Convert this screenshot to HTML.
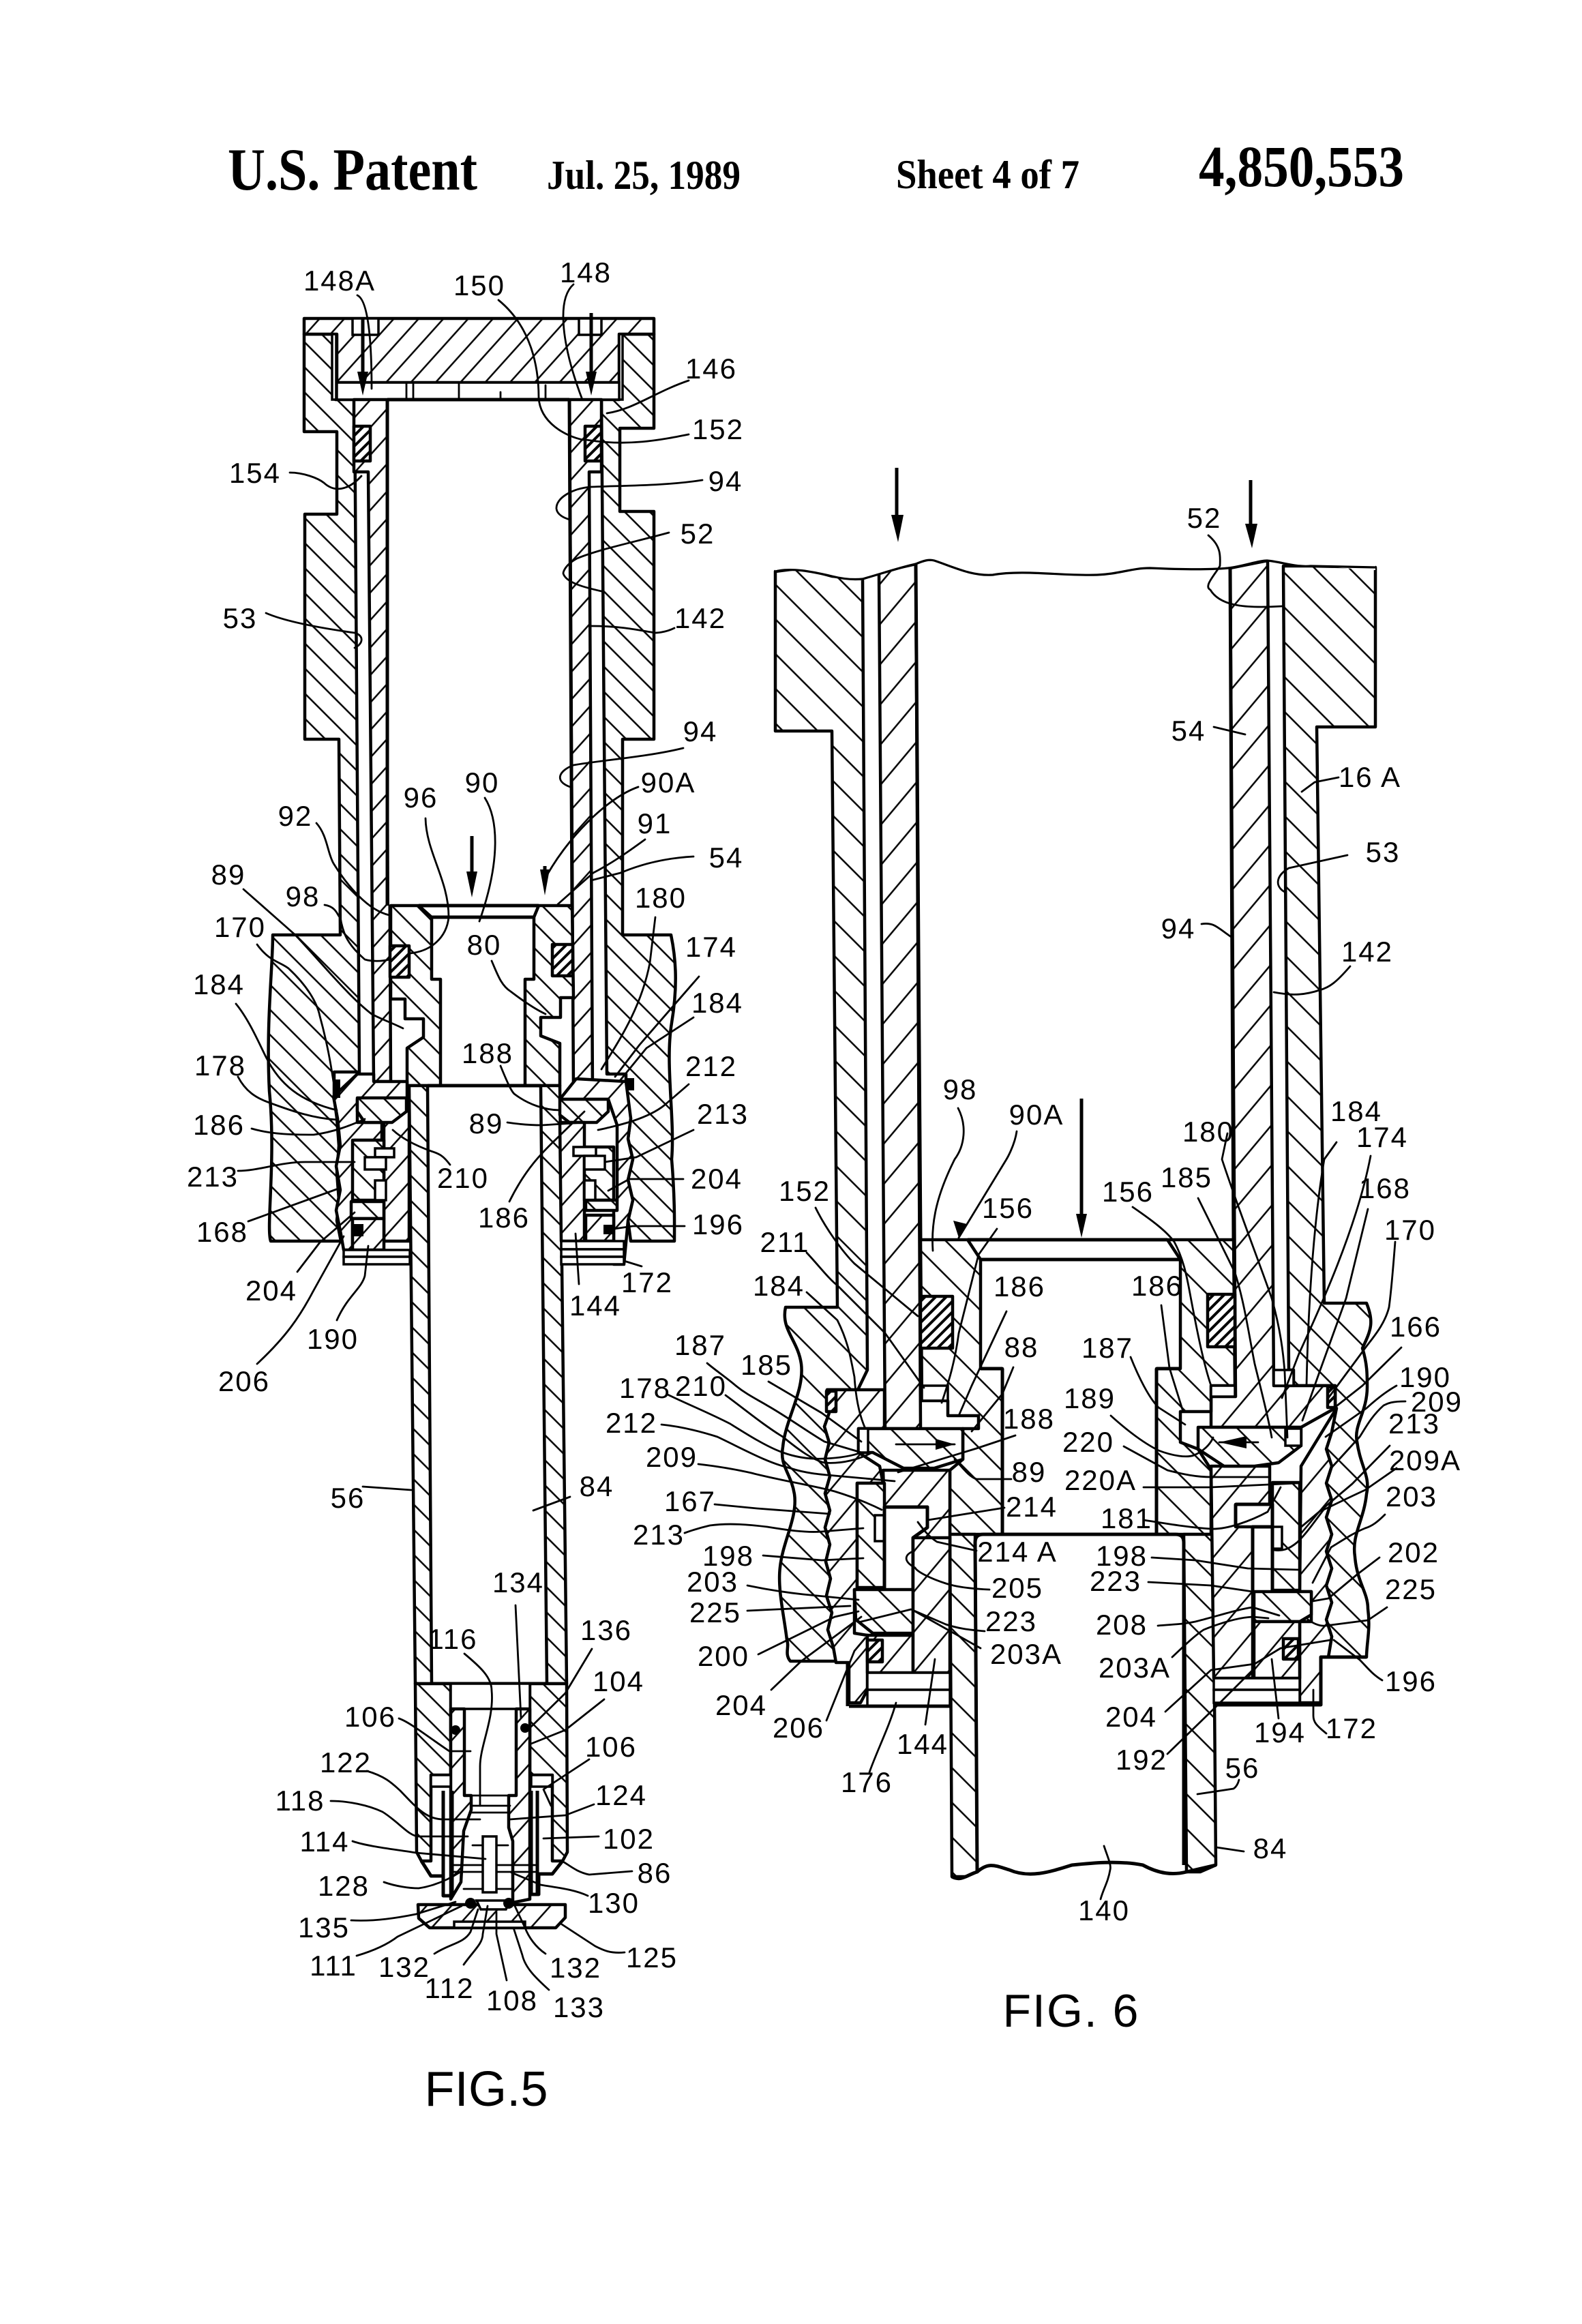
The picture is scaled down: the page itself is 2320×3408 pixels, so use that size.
<!DOCTYPE html>
<html><head><meta charset="utf-8"><title>U.S. Patent 4,850,553 Sheet 4 of 7</title>
<style>
html,body{margin:0;padding:0;background:#fff}
svg{display:block}
.o{stroke:#000;stroke-width:4.5;stroke-linejoin:round}
.l{fill:none;stroke:#000;stroke-width:2.8;stroke-linejoin:round;stroke-linecap:round}
.k{fill:none;stroke:#000;stroke-width:5;stroke-linejoin:round}
.w{fill:#fff;stroke:#000;stroke-width:3.5}
text{font-family:"Liberation Sans",sans-serif;font-size:42px;text-anchor:middle;letter-spacing:2px;fill:#000}
.h{font-family:"Liberation Serif",serif;font-weight:bold;text-anchor:start;letter-spacing:0}
</style></head><body>
<svg xmlns="http://www.w3.org/2000/svg" width="2320" height="3408" viewBox="0 0 2320 3408">
<defs>
<pattern id="a" width="26" height="26" patternUnits="userSpaceOnUse" patternTransform="rotate(45)"><rect width="26" height="26" fill="#fff"/><line x1="0" y1="13" x2="26" y2="13" stroke="#000" stroke-width="2.6"/></pattern>
<pattern id="c" width="36" height="36" patternUnits="userSpaceOnUse" patternTransform="rotate(45)"><rect width="36" height="36" fill="#fff"/><line x1="0" y1="18" x2="36" y2="18" stroke="#000" stroke-width="2.6"/></pattern>
<pattern id="d" width="38" height="38" patternUnits="userSpaceOnUse" patternTransform="rotate(-50)"><rect width="38" height="38" fill="#fff"/><line x1="0" y1="19" x2="38" y2="19" stroke="#000" stroke-width="2.6"/></pattern>
<pattern id="e" width="11" height="11" patternUnits="userSpaceOnUse" patternTransform="rotate(-45)"><rect width="11" height="11" fill="#fff"/><line x1="0" y1="5" x2="11" y2="5" stroke="#000" stroke-width="4"/></pattern>
<pattern id="f" width="27" height="27" patternUnits="userSpaceOnUse" patternTransform="rotate(-48)"><rect width="27" height="27" fill="#fff"/><line x1="0" y1="13" x2="27" y2="13" stroke="#000" stroke-width="2.6"/></pattern>
</defs>

<!-- HEADER -->
<text class="h" x="334" y="278" textLength="366" lengthAdjust="spacingAndGlyphs" style="font-size:88px">U.S. Patent</text>
<text class="h" x="802" y="277" textLength="284" lengthAdjust="spacingAndGlyphs" style="font-size:60px">Jul. 25, 1989</text>
<text class="h" x="1314" y="276" textLength="269" lengthAdjust="spacingAndGlyphs" style="font-size:60px">Sheet 4 of 7</text>
<text class="h" x="1758" y="273" textLength="301" lengthAdjust="spacingAndGlyphs" style="font-size:86px">4,850,553</text>

<!-- ================= FIG 5 ================= -->
<!-- outer housing -->
<path class="o" fill="url(#a)" d="M446 490H492V586H520L527 1572H490V1610L494 1640 497 1680 494 1720 497 1760 494 1790 500 1820H397C390 1800 405 1700 395 1600 390 1500 400 1420 400 1371H499L497 1084H447V754H494V633H446Z"/>
<path class="o" fill="url(#a)" d="M908 490H959V628H909V750H959V1084H913V1371H984C990 1400 995 1440 985 1500 975 1560 990 1640 985 1700 990 1760 989 1800 989 1820H925L921 1790 928 1760 921 1730 928 1700 921 1670 925 1640 918 1610V1575H890L882 586H908Z"/>
<!-- top plate -->
<path class="o" fill="url(#f)" d="M446 467H959V490H908V561H494V490H446Z"/>
<rect class="w" x="517" y="467" width="38" height="24"/><rect class="w" x="849" y="467" width="33" height="24"/>
<rect class="w" x="487" y="490" width="6" height="96"/><rect class="w" x="908" y="490" width="5" height="96"/>
<rect class="w" x="494" y="561" width="414" height="25"/>
<path class="l" d="M596 561V586M606 561V586M673 561V586M734 575V586M800 565V586"/>
<!-- inner tubes -->
<path class="o" fill="url(#f)" d="M519 586H568L573 1586H548L540 692H519Z"/>
<path class="o" fill="url(#f)" d="M835 586H882V692H864L869 1600H841Z"/>
<rect class="o" fill="url(#e)" x="519" y="625" width="24" height="51"/>
<rect class="o" fill="url(#e)" x="858" y="625" width="24" height="51"/>
<path fill="#fff" d="M630 586H835V1328H571L568 586Z"/>
<path class="k" d="M568 586H835M568 586V1328M835 586L839 1328"/>
<!-- piston -->
<path class="o" fill="url(#a)" d="M573 1328H614L633 1345V1436H646V1592H597V1537L621 1521V1494H594V1465H573Z"/>
<path class="o" fill="url(#a)" d="M790 1328H839L841 1463H822V1492H793V1519L821 1530V1592H770V1436H783V1345Z"/>
<path class="k" d="M614 1328H790M633 1345H783"/>
<rect class="o" fill="url(#e)" x="572" y="1387" width="28" height="46"/>
<rect class="o" fill="url(#e)" x="810" y="1385" width="30" height="46"/>
<!-- tube -->
<path class="o" fill="url(#a)" d="M600 1592H627L633 2469H609Z"/>
<path class="o" fill="url(#a)" d="M793 1592H821L831 2469H802Z"/>
<path class="k" d="M627 1592H793M633 2469H802"/>
<!-- coupling left -->
<path class="o" fill="url(#f)" d="M489 1608L524 1575H548V1586H597V1612H524V1646H560V1672H520V1762H517V1833H504L500 1810 493 1775 499 1745 493 1710 499 1680 495 1640Z"/>
<rect class="o" fill="url(#f)" x="563" y="1612" width="37" height="208"/>
<path class="o" fill="url(#a)" d="M524 1610H596V1630L575 1646H535L524 1630Z"/>
<path class="o" fill="url(#a)" d="M517 1672H563V1760H517Z"/>
<rect class="w" x="550" y="1684" width="28" height="13"/><rect class="w" x="535" y="1697" width="31" height="18"/><rect class="w" x="550" y="1731" width="16" height="29"/>
<path class="o" fill="url(#a)" d="M515 1762H563V1787H515Z"/>
<rect class="o" fill="url(#f)" x="517" y="1787" width="46" height="46"/>
<rect x="489" y="1583" width="10" height="27"/><rect x="519" y="1795" width="14" height="18"/>
<rect class="w" x="504" y="1833" width="97" height="10"/><rect class="w" x="504" y="1843" width="97" height="11"/>
<!-- coupling right -->
<path class="o" fill="url(#f)" d="M918 1586L925 1640 921 1670 928 1700 921 1730 928 1760 921 1790 915 1854H900V1760H905V1650L892 1612H821L845 1582Z"/>
<path class="o" fill="url(#a)" d="M821 1612H892V1630L875 1646H835L821 1635Z"/>
<path class="o" fill="url(#f)" d="M821 1646H857V1820H823Z"/>
<path class="o" fill="url(#a)" d="M857 1682H900V1760H857Z"/>
<rect class="w" x="841" y="1682" width="33" height="13"/><rect class="w" x="857" y="1695" width="30" height="20"/><rect class="w" x="857" y="1731" width="16" height="29"/>
<path class="o" fill="url(#a)" d="M859 1760H905V1775H859Z"/>
<rect class="o" fill="url(#f)" x="859" y="1782" width="41" height="38"/>
<rect x="918" y="1581" width="12" height="18"/><rect x="885" y="1796" width="14" height="14"/>
<rect class="w" x="823" y="1820" width="92" height="12"/><rect class="w" x="823" y="1832" width="92" height="11"/><rect class="w" x="823" y="1843" width="92" height="11"/>
<!-- lower valve -->
<path class="o" fill="url(#a)" d="M609 2469H661V2603H632V2729H618L611 2716Z"/>
<path class="o" fill="url(#a)" d="M831 2469H777V2603H810V2729H825L832 2716Z"/>
<rect class="w" x="661" y="2469" width="116" height="37"/>
<path class="o" fill="url(#f)" d="M661 2506H681V2633H691V2654L680 2685 676 2760 661 2785Z"/>
<path class="o" fill="url(#f)" d="M757 2506H777V2785L752 2790V2700L746 2680V2633H757Z"/>
<path class="l" d="M681 2506H757V2633H681Z"/>
<rect class="w" x="632" y="2603" width="29" height="17"/><rect class="w" x="779" y="2603" width="31" height="17"/>
<path class="k" d="M618 2729L632 2751H650V2780H663M825 2729L810 2748H790V2778H779M650 2626V2780M663 2626V2780M779 2626V2780M788 2626V2780"/>
<rect class="w" x="708" y="2693" width="20" height="82"/>
<path class="l" d="M691 2648H748M691 2658H748M693 2706H708M728 2706H745M665 2735H708M728 2735H785M665 2745H708M728 2745H785M680 2770H708M728 2770H752"/>
<path class="o" fill="url(#f)" d="M613 2793H829V2812L815 2827H630L614 2813Z"/>
<path class="w" d="M666 2827V2818H770V2827Z"/><path class="w" d="M699 2787H748L742 2800H705Z"/>
<circle cx="690" cy="2791" r="8"/><circle cx="746" cy="2791" r="8"/><circle cx="668" cy="2537" r="7"/><circle cx="770" cy="2534" r="7"/>

<!-- FIG 5 arrows -->
<path class="k" d="M532 468V555M692 1226V1290M867 459V555M799 1270V1290"/>
<path d="M524 545H540L532 580ZM684 1278H700L692 1316ZM792 1275H806L799 1313ZM859 545H875L867 580Z"/>

<!-- FIG 5 leaders -->
<path class="l" d="M524 433C540 440 545 500 545 570M731 440C780 480 790 540 790 583 792 620 830 640 855 645M1010 637C970 645 920 655 860 645M841 417C815 440 825 510 854 586M1010 558C960 575 930 600 890 606M1030 704C980 712 920 712 867 714 840 716 815 730 816 746 817 755 828 760 836 762M981 781C930 795 880 805 846 819 826 830 826 841 826 841 830 855 860 862 882 867M989 921C975 928 961 928 961 928 940 925 913 918 867 918M390 899C420 912 470 921 520 928 535 932 532 945 520 950M425 693C445 693 466 701 475 708 490 722 510 720 530 698M1002 1097C950 1110 880 1115 841 1122 820 1130 812 1145 836 1154M936 1154C890 1170 830 1230 798 1291M946 1231C920 1250 897 1266 870 1280L818 1326M1017 1256C980 1258 943 1266 910 1280L867 1291M711 1170C730 1200 735 1260 703 1351M624 1200C625 1250 658 1290 658 1345 655 1375 632 1395 601 1398M464 1207C480 1225 480 1250 489 1266 510 1300 540 1335 571 1342M357 1304L433 1371C470 1410 510 1460 545 1487 560 1495 575 1500 591 1508M476 1327C495 1330 495 1345 499 1345 503 1370 510 1385 535 1407 545 1410 560 1410 571 1407M377 1385C395 1410 410 1410 423 1420 450 1445 465 1470 469 1490 480 1530 485 1560 489 1586M346 1472C365 1495 380 1530 390 1550 410 1590 440 1615 494 1628M349 1579C360 1600 375 1610 395 1617 430 1630 460 1640 494 1642M369 1655C400 1664 433 1664 460 1664 490 1660 515 1650 535 1641M349 1717C380 1717 410 1704 448 1704H520M364 1791L499 1742M436 1865L469 1822 520 1778M377 2000C420 1960 440 1930 459 1894L504 1813M494 1936C510 1900 530 1890 535 1871L540 1827M660 1708C650 1695 645 1692 632 1688 610 1680 590 1670 576 1657M734 1563C745 1590 750 1600 754 1604 775 1620 800 1628 821 1628M744 1646C770 1650 790 1650 795 1650L857 1646M747 1762C770 1715 795 1690 816 1670L857 1630M721 1409C730 1430 735 1445 749 1454 770 1470 785 1480 800 1487M961 1345L953 1412C940 1480 905 1530 882 1568M1025 1432L938 1532 902 1579M1017 1492L948 1537 908 1586M1010 1590L974 1621C950 1640 910 1650 877 1657M1017 1657L933 1697 887 1704M1002 1729H923L892 1746M1004 1798H928L887 1804M941 1857L915 1849M849 1883L844 1809M532 2180L603 2185M782 2215L836 2195"/>
<path class="l" d="M681 2425C705 2445 721 2460 721 2479 725 2520 704 2560 704 2590V2648M756 2354L764 2519M868 2418L829 2483 779 2532M886 2492L829 2537 779 2557M585 2520C600 2525 625 2545 659 2568H690M864 2580L797 2624 808 2648M538 2597C565 2605 575 2615 587 2626 610 2650 625 2668 650 2668H704M485 2641C510 2641 540 2647 561 2657 585 2672 600 2693 614 2693H686M871 2646L829 2662 748 2668M517 2700C540 2708 580 2712 610 2717L712 2726M878 2693L797 2696M927 2744L864 2749C845 2745 835 2735 824 2729M563 2760C580 2766 600 2769 614 2769 640 2765 660 2755 677 2744M862 2780C840 2770 815 2768 793 2764L750 2746M515 2816C550 2818 585 2812 610 2807L668 2789M523 2868C550 2860 570 2850 583 2840L677 2795M637 2865C660 2850 680 2850 690 2833L701 2800M680 2881C695 2860 708 2850 708 2836L715 2795M743 2904L728 2836V2804M805 2918C785 2900 770 2885 766 2867L753 2827M800 2865C785 2855 775 2840 770 2827L755 2795M916 2863C895 2865 885 2860 873 2854L824 2822"/>

<!-- FIG 5 labels -->
<text x="498" y="426">148A</text><text x="703" y="433">150</text><text x="859" y="414">148</text><text x="1043" y="555">146</text><text x="1053" y="644">152</text><text x="1064" y="720">94</text><text x="1023" y="797">52</text><text x="1027" y="921">142</text><text x="352" y="921">53</text><text x="374" y="708">154</text><text x="1027" y="1087">94</text><text x="980" y="1162">90A</text><text x="960" y="1222">91</text><text x="1065" y="1272">54</text><text x="707" y="1162">90</text><text x="617" y="1184">96</text><text x="433" y="1211">92</text><text x="335" y="1297">89</text><text x="444" y="1329">98</text><text x="352" y="1374">170</text><text x="969" y="1331">180</text><text x="710" y="1400">80</text><text x="1043" y="1403">174</text><text x="321" y="1458">184</text><text x="1052" y="1485">184</text><text x="715" y="1559">188</text><text x="1043" y="1578">212</text><text x="323" y="1577">178</text><text x="321" y="1664">186</text><text x="713" y="1662">89</text><text x="1060" y="1648">213</text><text x="312" y="1740">213</text><text x="679" y="1742">210</text><text x="1051" y="1743">204</text><text x="739" y="1800">186</text><text x="326" y="1821">168</text><text x="1053" y="1810">196</text><text x="949" y="1895">172</text><text x="398" y="1907">204</text><text x="873" y="1929">144</text><text x="488" y="1978">190</text><text x="358" y="2040">206</text><text x="510" y="2211">56</text><text x="875" y="2194">84</text>
<text x="760" y="2335">134</text><text x="664" y="2418">116</text><text x="889" y="2405">136</text><text x="907" y="2480">104</text><text x="543" y="2532">106</text><text x="896" y="2576">106</text><text x="507" y="2599">122</text><text x="440" y="2655">118</text><text x="911" y="2647">124</text><text x="476" y="2715">114</text><text x="922" y="2711">102</text><text x="960" y="2761">86</text><text x="504" y="2780">128</text><text x="900" y="2805">130</text><text x="475" y="2841">135</text><text x="489" y="2897">111</text><text x="593" y="2899">132</text><text x="844" y="2900">132</text><text x="956" y="2885">125</text><text x="659" y="2930">112</text><text x="751" y="2948">108</text><text x="849" y="2958">133</text>
<text x="713" y="3088" textLength="181" style="font-size:72px;letter-spacing:0">FIG.5</text>

<!-- ================= FIG 6 ================= -->
<!-- left housing -->
<path class="o" fill="url(#c)" d="M1137 838L1176 833 1220 845 1265 849 1272 2009 1258 2038H1213L1216 2072 1209 2092 1216 2115 1210 2140 1217 2165 1210 2190 1217 2215 1210 2240 1217 2265 1211 2290 1218 2315 1212 2340 1220 2365 1214 2390 1222 2415 1226 2436H1159C1150 2425 1158 2415 1154 2405 1150 2370 1140 2330 1144 2298 1148 2260 1170 2225 1165 2191 1160 2160 1143 2150 1148 2122 1152 2080 1180 2040 1175 2000 1170 1965 1145 1950 1152 1917H1228L1220 1072H1137Z"/>
<!-- right housing -->
<path class="o" fill="url(#c)" d="M1882 830L1922 830 2017 832V1066H1931L1942 1911H2004C2015 1938 2011 1950 1998 1977 2005 2000 2005 2015 2005 2034 2005 2070 1985 2090 1990 2114 1995 2150 2010 2165 2004 2191 2000 2230 1982 2250 1987 2283 1990 2320 2006 2335 2006 2359 2010 2390 2004 2410 2004 2430H1948L1953 2400 1945 2375 1953 2350 1945 2325 1953 2300 1945 2275 1953 2250 1945 2225 1953 2200 1945 2175 1953 2150 1945 2125 1953 2100 1958 2065V2032H1897V2009H1890Z"/>
<!-- inner tubes + nuts -->
<path class="o" fill="url(#d)" d="M1289 839L1343 827 1350 2095H1298Z"/>
<path class="o" fill="url(#d)" d="M1804 833L1859 822 1868 2032H1958V2065L1908 2093H1776V2048H1812Z"/>
<path class="o" fill="url(#d)" d="M1213 2038H1297V2095H1259V2130L1290 2150 1295 2175H1257V2331H1253V2395L1272 2398V2478L1262 2497H1245V2438H1226L1222 2415 1214 2390 1220 2365 1212 2340 1218 2315 1211 2290 1217 2265 1210 2240 1217 2215 1210 2190 1217 2165 1210 2140 1216 2115 1209 2092 1216 2072Z"/>
<path class="o" fill="url(#d)" d="M1908 2150L1960 2065 1953 2100 1945 2125 1953 2150 1945 2175 1953 2200 1945 2225 1953 2250 1945 2275 1953 2300 1945 2325 1953 2350 1945 2375 1953 2400 1948 2430H1937V2497H1906V2378H1923V2334H1906Z"/>
<!-- bore -->
<path d="M1343 827L1804 833 1809 1818H1350Z" fill="#fff"/>
<path d="M1137 800H2017V836L1922 830C1900 832 1880 824 1858 822 1845 822 1825 830 1801 833 1770 836 1730 835 1686 833 1660 833 1640 842 1609 843 1560 845 1500 835 1456 843 1425 845 1400 832 1370 822 1362 820 1355 822 1343 827 1320 832 1290 842 1265 849 1255 850 1240 850 1220 845 1190 838 1160 832 1137 838Z" fill="#fff"/>
<path class="k" d="M1343 827L1350 1818M1804 833L1809 1818"/>
<path class="l" style="stroke-width:3.2" d="M1137 838C1160 832 1190 838 1220 845 1240 850 1255 850 1265 849 1290 842 1320 832 1343 827 1355 822 1362 820 1370 822 1400 832 1425 845 1456 843 1500 835 1560 845 1609 843 1640 842 1660 833 1686 833 1730 835 1770 836 1801 833 1825 830 1845 822 1858 822 1880 824 1900 832 1922 830L2017 832"/>
<!-- piston -->
<path class="o" fill="url(#c)" d="M1350 1818H1419L1438 1847V2007H1470V2250H1393V2156L1412 2140V2095H1435V2076H1390V2054H1352Z"/>
<path class="o" fill="url(#c)" d="M1712 1818H1809L1811 2032H1776V2070H1731V2115L1757 2125 1776 2155V2250H1696V2007H1731V1847Z"/>
<path class="k" d="M1419 1818H1712M1438 1847H1731M1438 2007H1470M1696 2007H1731"/>
<!-- seals -->
<rect class="o" fill="url(#e)" x="1350" y="1901" width="47" height="76"/>
<rect class="o" fill="url(#e)" x="1771" y="1898" width="40" height="77"/>
<rect class="w" x="1352" y="2032" width="38" height="22"/><rect class="w" x="1776" y="2032" width="35" height="16"/>
<rect class="w" x="1868" y="2009" width="29" height="23"/>
<rect class="o" fill="url(#e)" x="1212" y="2040" width="14" height="30"/>
<rect class="o" fill="url(#e)" x="1947" y="2034" width="11" height="30"/>
<!-- tube -->
<path class="o" fill="url(#c)" d="M1393 2250H1430L1433 2745 1417 2752 1396 2752Z"/>
<path class="o" fill="url(#c)" d="M1736 2250H1779L1783 2735 1760 2745H1740Z"/>
<path class="k" d="M1396 2752C1410 2760 1420 2748 1433 2745 1450 2730 1460 2736 1480 2742 1510 2755 1540 2745 1572 2735 1600 2732 1640 2728 1676 2735 1700 2748 1720 2750 1740 2745L1783 2735"/>
<path class="k" d="M1430 2262Q1430 2250 1442 2250H1724Q1736 2250 1736 2262V2735M1430 2262L1433 2745M1470 2007V2250M1696 2007V2250"/>
<!-- left coupling -->
<path class="o" fill="url(#d)" d="M1295 2156H1393V2453H1339V2255L1360 2240V2210H1297Z"/>
<path class="o" fill="url(#c)" d="M1257 2175H1297V2328H1257Z"/>
<rect class="w" x="1283" y="2222" width="14" height="38"/><rect x="1297" y="2210" width="42" height="124" fill="#fff"/>
<path class="k" d="M1297 2210H1360V2240L1339 2255V2334H1297Z"/>
<path class="o" fill="url(#c)" d="M1259 2095H1412V2140L1370 2153H1325L1280 2130H1259Z"/>
<rect class="w" x="1259" y="2095" width="14" height="35"/>
<path class="o" fill="url(#c)" d="M1253 2331H1339V2395H1280L1255 2375Z"/>
<path class="o" fill="url(#d)" d="M1272 2398H1339V2453H1272Z"/>
<rect class="o" fill="url(#e)" x="1272" y="2405" width="22" height="32"/>
<path class="o" fill="url(#d)" d="M1339 2255H1393V2453H1339Z"/>
<rect class="w" x="1272" y="2453" width="121" height="25"/><rect class="w" x="1272" y="2478" width="121" height="24"/>
<path class="k" d="M1245 2502H1393M1243 2438V2502"/>
<!-- right coupling -->
<path class="o" fill="url(#d)" d="M1776 2150H1862V2206H1812V2239H1837V2461H1780Z"/>
<path class="o" fill="url(#c)" d="M1866 2174H1906V2332H1866Z"/>
<rect class="w" x="1866" y="2239" width="14" height="32"/>
<rect x="1837" y="2239" width="29" height="93" fill="#fff"/>
<path class="k" d="M1812 2206H1866V2239H1837V2332M1866 2239V2332M1812 2206V2239"/>
<path class="o" fill="url(#c)" d="M1757 2093H1908V2120L1875 2145 1840 2150H1795L1757 2125Z"/>
<rect class="w" x="1885" y="2095" width="23" height="25"/>
<path class="o" fill="url(#c)" d="M1839 2334H1923V2368L1906 2378H1839Z"/>
<path class="o" fill="url(#d)" d="M1839 2378H1906V2461H1839Z"/>
<rect class="o" fill="url(#e)" x="1882" y="2403" width="22" height="30"/>
<rect class="w" x="1780" y="2461" width="126" height="17"/><rect class="w" x="1780" y="2478" width="126" height="19"/>
<path class="k" d="M1780 2500H1937V2430H2004"/>
<!-- FIG 6 arrows -->
<path class="k" d="M1315 686V760M1834 704V770M1586 1611V1790"/>
<path d="M1307 755H1325L1317 795ZM1826 768H1844L1836 804ZM1578 1780H1594L1586 1815ZM1398 1790L1418 1795 1406 1815Z"/>
<path d="M1372 2110L1400 2118 1372 2126ZM1828 2106L1788 2115 1828 2124Z"/>
<path class="l" d="M1314 2118H1400M1788 2115H1845"/>
<!-- FIG 6 leaders -->
<path class="l" d="M1772 785C1790 800 1790 814 1789 830 1780 845 1765 860 1775 865 1790 890 1830 892 1880 889M1780 1066L1826 1077M1963 1140L1928 1147 1909 1161M1976 1254L1890 1273C1870 1285 1870 1300 1884 1308M1762 1355C1780 1352 1785 1360 1807 1375M1980 1417C1960 1440 1950 1448 1935 1452 1905 1462 1885 1458 1868 1455M1405 1625C1418 1650 1415 1680 1400 1700 1375 1750 1365 1790 1368 1834M1491 1659C1488 1680 1476 1700 1476 1700L1406 1815M1196 1771C1210 1800 1235 1835 1253 1853L1346 1930M1183 1837C1200 1855 1215 1875 1228 1885L1298 1955 1355 2035M1462 1802L1435 1840C1425 1880 1415 1920 1406 1955 1400 2000 1390 2030 1381 2057M1183 1895L1228 1936C1245 1970 1248 1995 1253 2019 1255 2050 1260 2075 1269 2095M1476 1923L1425 2032 1406 2076M1486 2005L1470 2044 1425 2099M1489 2105L1432 2124 1317 2159M1483 2169H1432C1420 2165 1410 2150 1400 2140M1473 2211L1361 2229M1432 2274L1374 2261C1360 2252 1352 2240 1346 2232M1451 2331C1430 2330 1405 2328 1387 2322 1365 2315 1345 2305 1342 2299 1325 2290 1325 2280 1341 2274M1444 2392C1420 2390 1405 2388 1387 2382L1336 2360 1259 2379M1438 2417L1342 2363M1275 2599C1285 2570 1305 2530 1314 2497M1357 2529L1371 2433M1212 2523L1253 2421 1269 2402"/>
<path class="l" d="M1661 1770C1690 1790 1710 1805 1722 1821 1735 1845 1740 1870 1744 1891 1755 1950 1765 2000 1776 2032M1757 1757L1811 1866C1825 1910 1832 1960 1840 2000 1850 2040 1860 2080 1865 2108M1703 1914L1715 2006 1735 2070M1658 1990C1670 2020 1685 2050 1699 2064L1738 2089M1629 2076C1650 2095 1675 2115 1699 2127 1720 2135 1740 2138 1751 2134 1765 2128 1775 2118 1779 2108M1648 2121L1712 2156C1735 2162 1755 2166 1776 2166H1862M1677 2181H1776L1903 2175M1677 2229C1715 2235 1745 2240 1776 2242 1800 2243 1835 2230 1859 2217L1878 2181M1689 2284L1753 2288 1830 2300 1906 2302M1684 2320L1776 2325 1837 2334H1868M1698 2384C1720 2382 1735 2382 1753 2378 1785 2370 1815 2360 1837 2357L1876 2369M1719 2430C1735 2415 1750 2400 1765 2390 1790 2380 1815 2372 1837 2371L1860 2373M1709 2510L1776 2449 1840 2440 1878 2417 1951 2405M1712 2572L1782 2504 1840 2446M1875 2520L1865 2433M1945 2542C1930 2530 1926 2525 1926 2516V2478M1817 2610C1815 2618 1812 2621 1809 2623L1756 2631M1784 2709L1824 2715M1619 2707C1625 2725 1630 2735 1628 2742 1625 2760 1618 2770 1614 2785"/>
<path class="l" d="M2055 1976L1998 2032 1956 2065M2048 2032C2030 2042 2015 2055 2004 2065L1944 2107M2061 2055C2040 2055 2035 2058 2029 2061 2010 2078 2002 2095 1994 2107L1952 2153M2038 2120L1983 2176 1906 2241M2048 2153L2002 2185C1980 2195 1960 2205 1941 2214 1925 2235 1915 2250 1902 2262 1890 2272 1880 2275 1868 2273M2031 2221C2020 2232 2012 2238 2002 2241 1985 2248 1970 2258 1952 2269L1925 2321M2023 2284L1990 2309 1948 2344 1925 2348M2034 2357L2006 2376 1944 2384C1935 2385 1925 2380 1918 2375M2027 2464C2012 2455 2005 2445 1994 2434L1956 2405M2006 1773L1974 1904 1935 2012 1910 2083M2010 1695C1990 1800 1935 1920 1905 1985L1880 2050M2046 1821C2043 1860 2040 1895 2037 1917 2030 1945 2010 1965 1999 1981L1948 2050M1960 1675L1942 1700C1925 1800 1918 1930 1916 2032M1800 1662L1792 1700C1815 1770 1850 1860 1865 1904 1878 1950 1882 1985 1884 2012L1888 2108"/>
<path class="l" d="M1037 1999C1050 2010 1065 2020 1079 2032 1095 2045 1110 2052 1125 2061 1155 2078 1185 2100 1209 2114L1263 2130M1127 2026L1205 2072 1263 2114M979 2045C1010 2060 1040 2072 1071 2088 1095 2103 1125 2122 1148 2130 1170 2138 1190 2140 1209 2139 1230 2138 1250 2135 1263 2130M1064 2046C1090 2065 1120 2090 1148 2107 1170 2125 1190 2140 1209 2145 1235 2147 1260 2140 1279 2130M970 2089C1000 2092 1030 2100 1052 2107 1090 2125 1125 2145 1159 2153 1180 2160 1200 2162 1224 2164L1312 2172M1024 2147C1050 2150 1080 2155 1102 2160 1140 2170 1190 2178 1224 2187 1250 2195 1275 2205 1293 2214M1048 2206L1110 2212 1217 2220M1004 2248C1015 2244 1028 2240 1041 2237 1070 2233 1100 2236 1125 2239 1150 2243 1180 2248 1205 2246L1266 2241M1119 2281L1205 2288 1266 2285M1096 2325C1120 2330 1150 2335 1178 2338L1259 2346M1096 2362L1247 2355M1112 2426L1224 2371 1259 2363M1131 2478L1175 2436 1263 2371"/>
<!-- FIG 6 labels -->
<text x="1766" y="774">52</text><text x="1743" y="1086">54</text><text x="2009" y="1154">16 A</text><text x="2028" y="1264">53</text><text x="1728" y="1376">94</text><text x="2005" y="1410">142</text><text x="1408" y="1612">98</text><text x="1520" y="1649">90A</text><text x="1772" y="1674">180</text><text x="1989" y="1644">184</text><text x="2027" y="1682">174</text><text x="1180" y="1761">152</text><text x="1478" y="1786">156</text><text x="1654" y="1762">156</text><text x="1740" y="1741">185</text><text x="2031" y="1757">168</text><text x="2068" y="1818">170</text><text x="1151" y="1836">211</text><text x="1142" y="1900">184</text><text x="1495" y="1901">186</text><text x="1697" y="1900">186</text><text x="1498" y="1990">88</text><text x="1624" y="1991">187</text><text x="2076" y="1960">166</text><text x="1598" y="2065">189</text><text x="1509" y="2095">188</text><text x="1596" y="2129">220</text><text x="1509" y="2173">89</text><text x="1614" y="2185">220A</text><text x="1513" y="2224">214</text><text x="1652" y="2241">181</text><text x="1492" y="2290">214 A</text><text x="1645" y="2296">198</text><text x="1636" y="2333">223</text><text x="1492" y="2343">205</text><text x="1483" y="2392">223</text><text x="1645" y="2397">208</text><text x="1505" y="2440">203A</text><text x="1664" y="2460">203A</text><text x="1171" y="2548">206</text><text x="1353" y="2572">144</text><text x="1659" y="2532">204</text><text x="1877" y="2555">194</text><text x="1982" y="2549">172</text><text x="2069" y="2480">196</text><text x="1674" y="2595">192</text><text x="1822" y="2607">56</text><text x="1271" y="2628">176</text><text x="2090" y="2034">190</text><text x="2107" y="2070">209</text><text x="2074" y="2102">213</text><text x="2090" y="2156">209A</text><text x="2070" y="2209">203</text><text x="2073" y="2291">202</text><text x="2069" y="2345">225</text><text x="1027" y="1987">187</text><text x="1124" y="2016">185</text><text x="946" y="2050">178</text><text x="1028" y="2047">210</text><text x="926" y="2101">212</text><text x="985" y="2151">209</text><text x="1012" y="2216">167</text><text x="966" y="2265">213</text><text x="1068" y="2296">198</text><text x="1045" y="2334">203</text><text x="1049" y="2379">225</text><text x="1061" y="2443">200</text><text x="1087" y="2515">204</text><text x="1619" y="2816">140</text><text x="1863" y="2725">84</text>
<text x="1570" y="2972" textLength="199" style="font-size:68px;letter-spacing:0">FIG. 6</text>
</svg>
</body></html>
